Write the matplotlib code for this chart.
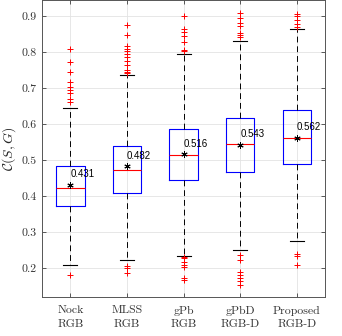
import matplotlib
matplotlib.use("Agg")
from matplotlib import pyplot as plt

plt.rcParams['mathtext.fontset'] = 'cm'
plt.rcParams['axes.unicode_minus'] = False

methods = ['Nock\nRGB', 'MLSS\nRGB', 'gPb\nRGB', 'gPbD\nRGB-D', 'Proposed\nRGB-D']

# quartiles, whisker ends and means per method
q1 = [0.371, 0.408, 0.445, 0.468, 0.489]
med = [0.421, 0.471, 0.515, 0.544, 0.561]
q3 = [0.484, 0.540, 0.585, 0.616, 0.638]
whislo = [0.207, 0.221, 0.234, 0.250, 0.276]
whishi = [0.646, 0.737, 0.795, 0.831, 0.863]
means = [0.431, 0.482, 0.516, 0.543, 0.562]

# outliers
fliers = [
    [0.809, 0.772, 0.744, 0.718, 0.702, 0.696, 0.685, 0.670, 0.661, 0.180],
    [0.875, 0.848, 0.817, 0.809, 0.804, 0.796, 0.787, 0.776, 0.763, 0.749,
     0.744, 0.741, 0.205, 0.200, 0.186],
    [0.900, 0.863, 0.856, 0.846, 0.827, 0.807, 0.803,
     0.231, 0.228, 0.217, 0.207, 0.202, 0.172, 0.165],
    [0.909, 0.894, 0.882, 0.872, 0.854, 0.848, 0.843,
     0.237, 0.222, 0.188, 0.181, 0.172, 0.163, 0.152],
    [0.907, 0.900, 0.889, 0.878, 0.869, 0.239, 0.234, 0.207],
]

stats = []
for i in range(len(methods)):
    stats.append(dict(q1=q1[i], med=med[i], q3=q3[i], whislo=whislo[i],
                      whishi=whishi[i], mean=means[i], fliers=fliers[i]))

fig = plt.figure(figsize=(3.42, 3.36), dpi=100)
ax = fig.add_axes([0.123, 0.115, 0.828, 0.885])

ax.bxp(stats, widths=0.5, showmeans=True,
       boxprops=dict(color='blue', lw=0.8),
       medianprops=dict(color='red', lw=0.8),
       whiskerprops=dict(color='black', lw=0.7, linestyle=(0, (6, 4))),
       capprops=dict(color='black', lw=0.8),
       flierprops=dict(marker='+', color='red', markeredgecolor='red',
                       markersize=5, markeredgewidth=0.7, linestyle='none'),
       meanprops=dict(marker=(6, 2, 0), markeredgecolor='black',
                      markerfacecolor='black', markersize=4.5,
                      markeredgewidth=0.7))

for i, m in enumerate(means):
    ax.text(i + 1.0, m + 0.029, '%.3f' % m, fontsize=7, va='center',
            ha='left', family='Liberation Sans', color='black')

ax.set_xlim(0.5, 5.5)
ax.set_ylim(0.118, 0.945)
ax.set_yticks([0.2, 0.3, 0.4, 0.5, 0.6, 0.7, 0.8, 0.9])
ax.set_yticklabels(['%.1f' % v for v in ax.get_yticks()])
ax.set_xticks(range(1, len(methods) + 1))
ax.set_xticklabels(methods, linespacing=1.55)

for lab in ax.get_xticklabels() + ax.get_yticklabels():
    lab.set_family('cmr10')
    lab.set_fontsize(8.5)
    lab.set_color('#333333')

ax.set_ylabel(r'$\mathcal{C}(S, G)$', fontsize=10, color='#262626', labelpad=2)
ax.grid(True, color='#e3e3e3', lw=0.6)
ax.set_axisbelow(True)
ax.tick_params(direction='in', length=3, width=0.6, top=True, right=True,
               color='#404040')
ax.tick_params(axis='x', pad=6)
ax.tick_params(axis='y', pad=4)
for s in ax.spines.values():
    s.set_color('#555555')
    s.set_linewidth(0.7)

fig.savefig('out.png', dpi=100)
